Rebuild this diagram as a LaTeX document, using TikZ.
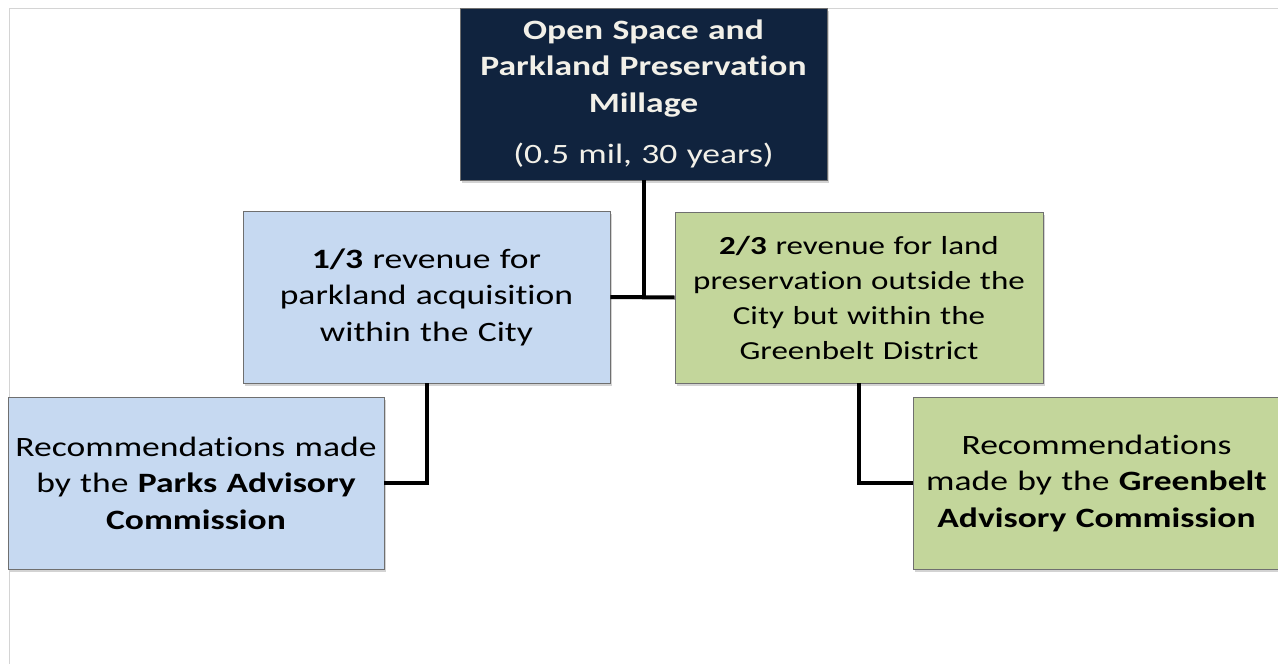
\documentclass[tikz,border=0pt]{standalone}
\usepackage{fontspec}
\setmainfont{Carlito}[FakeStretch=1.27, Ligatures=NoCommon]
\usetikzlibrary{shadows}
\definecolor{navybox}{HTML}{10233E}
\definecolor{bluebox}{HTML}{C6D9F1}
\definecolor{greenbox}{HTML}{C3D69B}
\definecolor{boxline}{HTML}{6F6F6F}
\definecolor{cream}{HTML}{F2F0E8}
\definecolor{frameline}{HTML}{D4D4D4}
\newcommand{\boxfont}{\fontsize{28}{36.5}\selectfont}
\newcommand{\smallboxfont}{\fontsize{26}{35}\selectfont}

\begin{document}
\begin{tikzpicture}[x=1pt,y=-1pt]
\tikzset{box/.style={draw=boxline, line width=0.8pt, align=center, inner sep=0pt,
    minimum width=367pt, minimum height=172pt, text width=364pt,
    font=\boxfont, drop shadow={opacity=0.35, shadow xshift=2pt, shadow yshift=-3pt}}}
\tikzset{conn/.style={line width=4pt, black}}
\useasboundingbox (0,0) rectangle (1278,664);
\draw[frameline, line width=1pt] (1278,8) -- (9,8) -- (9,664);
\node[box, fill=navybox, text=cream] (mill) at (643.5,94)
  {\textbf{Open Space and}\\ \textbf{Parkland Preservation}\\ \textbf{Millage}\\[15pt] (0.5 mil, 30 years)};
\node[box, fill=bluebox] (city) at (426.5,297)
  {\textbf{1/3} revenue for\\ parkland acquisition\\ within the City};
\node[box, fill=greenbox, minimum width=368pt, minimum height=171pt, font=\smallboxfont] (belt) at (859,297.5)
  {\textbf{2/3} revenue for land\\ preservation outside the\\ City but within the\\ Greenbelt District};
\node[box, fill=bluebox, minimum width=376pt, text width=372pt] (parks) at (196,483)
  {Recommendations made\\ by the \textbf{Parks Advisory}\\ \textbf{Commission}};
\node[box, fill=greenbox] (gbac) at (1096.5,483)
  {Recommendations\\ made by the \textbf{Greenbelt}\\ \textbf{Advisory Commission}};
\draw[conn] (mill.south) -- (mill.south |- city.east);
\draw[conn] (city.east) -- (belt.west);
\draw[conn] (city.south) |- (parks.east);
\draw[conn] (belt.south) |- (gbac.west);
\end{tikzpicture}
\end{document}
